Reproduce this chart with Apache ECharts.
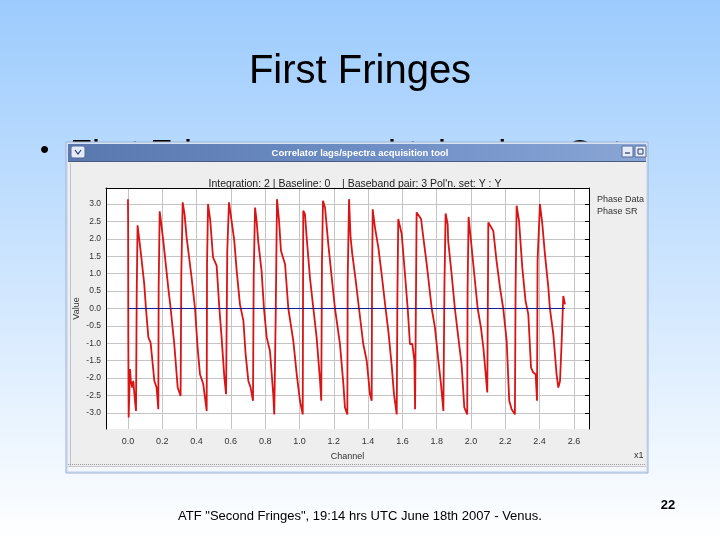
<!DOCTYPE html>
<html><head><meta charset="utf-8">
<script src="https://cdn.jsdelivr.net/npm/echarts@6/dist/echarts.min.js"></script>
<style>html,body{margin:0;padding:0;background:#fff;}#c{width:720px;height:540px;}</style>
</head><body><div id="c"></div>
<script>
// ---- data ----
const slideTitle = 'First Fringes';
const bulletText = 'First Fringes were obtained on Oct';
const windowTitle = 'Correlator lags/spectra acquisition tool';
const chartTitle = "Integration: 2 | Baseline: 0    | Baseband pair: 3 Pol'n. set: Y : Y";
const footerText = 'ATF "Second Fringes", 19:14 hrs UTC June 18th 2007 - Venus.';
const pageNumber = '22';
const seriesNames = ['Phase Data', 'Phase SR'];

const channel = [0,1,2,4,12,17,25,31,41,47,51,56,60,76,95,105,119,132,154,167,177,179,185,192,206,235,249,270,290,307,311,319,330,342,371,391,406,420,439,459,461,467,480,496,517,533,546,562,572,
579,589,604,620,634,653,673,686,702,715,729,733,741,750,760,779,793,809,828,847,853,861,869,881,892,916,935,964,984,1003,1019,1022,1032,1042,1061,1081,1100,1120,1127,1131,1137,1149,1168,1188,1207,
1217,1236,1256,1265,1279,1281,1289,1298,1308,1328,1347,1372,1392,1411,1421,1423,1427,1440,1460,1479,1502,1518,1537,1551,1567,1571,1576,1596,1615,1631,1644,1658,1670,1674,1683,1693,1709,1722,1742,1771,1790,1810,1825,1839,1845,1852,1864,
1867,1887,1906,1926,1945,1961,1978,1980,1986,2000,2019,2039,2058,2072,2085,2095,2101,2110,2130,2149,2169,2188,2208,2223,2237,2256,2260,2266,2280,2299,2318,2334,2350,2363,2377,2385,2388,2402,2416,2431,2451,2460,2480,2499,2509,2519,2528,2538,2544,2548];

const phase = [3.14,2.38,-0.83,-3.13,-1.74,-2.08,-2.27,-2.08,-2.65,-2.94,0.41,2.39,2.38,1.56,0.70,0,-0.83,-0.98,-2.08,-2.27,-2.89,0.60,2.79,2.52,1.94,0.60,0,-1.02,-2.27,-2.51,0.99,3.05,2.71,2.04,0.89,0,-1.12,-1.89,-2.17,-2.94,1.27,3.0,2.52,1.47,1.23,0,-0.83,-1.98,-2.46,
1.66,3.05,2.52,1.94,1.08,0.12,-0.35,-1.31,-2.08,-2.27,-2.65,0.89,2.90,2.52,1.90,1.08,0,-0.83,-1.22,-2.46,-3.04,-0.35,3.14,2.52,1.66,1.27,0,-0.93,-1.89,-2.65,-3.04,2.81,2.71,2.04,0.89,0,-0.83,-2.08,-2.65,1.27,3.09,2.90,1.85,0.89,0,
-0.35,-1.02,-2.17,-2.84,-3.04,0.80,3.14,2.04,1.56,0.80,0,-1.02,-1.50,-2.46,-2.65,0.70,2.85,2.33,1.75,0.99,0,-0.64,-1.60,-2.46,-3.04,0.41,2.57,2.14,0.99,0,-1.02,-1.02,-1.50,-2.89,2.76,2.71,2.57,2.04,1.27,0,-0.55,-1.50,-2.17,-2.94,0.60,2.73,2.42,
1.94,0.99,0,-0.83,-1.60,-2.84,-3.04,0.51,2.63,1.94,0.99,0,-0.55,-1.12,-1.84,-2.41,2.47,2.47,2.23,1.37,0.60,0,-0.93,-2.65,-2.89,-3.04,0.60,2.95,2.52,1.18,0.22,-0.16,-1.70,-1.84,-1.89,-2.65,1.37,3.0,2.42,1.56,0.60,0,-0.74,-1.89,-2.27,-2.08,-1.02,0.36,0.22,0.12];

const srChannel = [0, 2548];
const srPhase = [0, 0];

const xTicks = [0,200,400,600,800,1000,1200,1400,1600,1800,2000,2200,2400,2600];
const yTicks = [-3,-2.5,-2,-1.5,-1,-0.5,0,0.5,1,1.5,2,2.5,3];

// ---- chart ----
const chart = echarts.init(document.getElementById('c'), null, {renderer: 'canvas'});
const dataPts = channel.map((c, i) => [c, phase[i]]);
const srPts = srChannel.map((c, i) => [c, srPhase[i]]);
const FONT = 'Liberation Sans, Arial, sans-serif';

const option = {
  animation: false,
  backgroundColor: 'transparent',
  title: {
    text: chartTitle, left: 350, top: 174, textAlign: 'center',
    textStyle: {fontFamily: FONT, fontSize: 10.5, fontWeight: 'normal', color: '#222'}
  },
  legend: {
    data: seriesNames, orient: 'vertical', left: 587, top: 190,
    icon: 'none', itemWidth: 0, itemHeight: 8, itemGap: 3,
    textStyle: {fontFamily: FONT, fontSize: 9, color: '#333', padding: 0}
  },
  grid: {left: 106, right: 131, top: 188, bottom: 111, show: true, backgroundColor: '#ffffff', borderWidth: 0, containLabel: false},
  xAxis: [{
    type: 'value', min: -128, max: 2688, position: 'bottom',
    name: 'Channel', nameLocation: 'middle', nameGap: 23, nameMoveOverlap: false,
    nameTextStyle: {fontFamily: FONT, fontSize: 9, color: '#333'},
    axisLine: {show: false},
    axisTick: {show: false, customValues: xTicks},
    axisLabel: {customValues: xTicks, margin: 8, fontFamily: FONT, fontSize: 9, color: '#333',
      formatter: v => (v / 1000).toFixed(1)},
    splitLine: {show: true, lineStyle: {color: '#c4c4c4', width: 1}}
  }, {
    type: 'value', min: -128, max: 2688, position: 'top',
    axisLine: {show: true, onZero: false, lineStyle: {color: '#000', width: 1}},
    axisTick: {show: false}, axisLabel: {show: false}, splitLine: {show: false}
  }],
  yAxis: [{
    type: 'value', min: -3.46, max: 3.46, position: 'left',
    name: 'Value', nameLocation: 'middle', nameGap: 25, nameRotate: 90, nameMoveOverlap: false,
    nameTextStyle: {fontFamily: FONT, fontSize: 9, color: '#333'},
    axisLine: {show: true, onZero: false, lineStyle: {color: '#000', width: 1}},
    axisTick: {show: false, customValues: yTicks},
    axisLabel: {customValues: yTicks, margin: 5, fontFamily: FONT, fontSize: 8.5, color: '#333',
      formatter: v => v.toFixed(1)},
    splitLine: {show: true, lineStyle: {color: '#c4c4c4', width: 1}}
  }, {
    type: 'value', min: -3.46, max: 3.46, position: 'right',
    axisLine: {show: true, onZero: false, lineStyle: {color: '#000', width: 1}},
    axisTick: {show: true, inside: true, length: 4, customValues: yTicks, lineStyle: {color: '#000'}},
    axisLabel: {show: false}, splitLine: {show: false}
  }],
  series: [{
    name: seriesNames[0], type: 'line', data: dataPts, showSymbol: false, symbol: 'none',
    xAxisIndex: 0, yAxisIndex: 0, z: 3,
    lineStyle: {color: '#d91414', width: 1.8}, itemStyle: {color: '#d91414'}
  }, {
    name: seriesNames[1], type: 'line', data: srPts, showSymbol: false, symbol: 'none',
    xAxisIndex: 0, yAxisIndex: 0, z: 4,
    lineStyle: {color: '#1a1a8c', width: 1}, itemStyle: {color: '#1a1a8c'}
  }],
  graphic: [
    // slide background
    {type: 'rect', z: -100, shape: {x: 0, y: 0, width: 720, height: 540}, silent: true,
      style: {fill: new echarts.graphic.LinearGradient(0, 0, 0, 1, [{offset: 0, color: '#9ccbfd'}, {offset: 1, color: '#ffffff'}])}},
    {type: 'text', z: -90, x: 360, y: 72, silent: true,
      style: {text: slideTitle, fontFamily: FONT, fontSize: 40, fill: '#000', align: 'center', verticalAlign: 'middle'}},
    {type: 'text', z: -90, x: 40, y: 151, silent: true,
      style: {text: '\u2022', fontFamily: FONT, fontSize: 26, fill: '#000', align: 'left', verticalAlign: 'middle'}},
    {type: 'text', z: -90, x: 70, y: 156, silent: true,
      style: {text: bulletText, fontFamily: FONT, fontSize: 36, fill: '#000', align: 'left', verticalAlign: 'middle'}},
    // window frame
    {type: 'rect', z: -80, shape: {x: 66, y: 142, width: 582, height: 331}, silent: true,
      style: {fill: '#d6e2f3', stroke: '#9fb4d4', lineWidth: 1}},
    {type: 'rect', z: -79, shape: {x: 68, y: 144, width: 578, height: 17}, silent: true,
      style: {fill: new echarts.graphic.LinearGradient(0, 0, 1, 0, [{offset: 0, color: '#5a78b0'}, {offset: 0.5, color: '#6c8cc4'}, {offset: 1, color: '#8aa6d6'}])}},
    {type: 'text', z: -78, x: 360, y: 153, silent: true,
      style: {text: windowTitle, fontFamily: FONT, fontSize: 9.5, fontWeight: 'bold', fill: '#ffffff', align: 'center', verticalAlign: 'middle'}},
    {type: 'rect', z: -78, shape: {x: 71, y: 146, width: 14, height: 12, r: 2}, silent: true,
      style: {fill: '#e4ecf8', stroke: '#55699a', lineWidth: 1}},
    {type: 'polyline', z: -77, shape: {points: [[75, 150], [78, 154], [81, 150]]}, silent: true,
      style: {stroke: '#2a3a6a', lineWidth: 1.2, fill: null}},
    {type: 'rect', z: -78, shape: {x: 622, y: 146, width: 11, height: 11}, silent: true,
      style: {fill: '#e4ecf8', stroke: '#55699a', lineWidth: 1}},
    {type: 'line', z: -77, shape: {x1: 625, y1: 153, x2: 630, y2: 153}, silent: true,
      style: {stroke: '#2a3a6a', lineWidth: 1.2}},
    {type: 'rect', z: -78, shape: {x: 635, y: 146, width: 11, height: 11}, silent: true,
      style: {fill: '#e4ecf8', stroke: '#55699a', lineWidth: 1}},
    {type: 'rect', z: -77, shape: {x: 638, y: 149, width: 5, height: 5}, silent: true,
      style: {fill: null, stroke: '#2a3a6a', lineWidth: 1}},
    {type: 'line', z: -78, shape: {x1: 68, y1: 161.5, x2: 646, y2: 161.5}, silent: true,
      style: {stroke: '#4a5a80', lineWidth: 1}},
    // window body
    {type: 'rect', z: -76, shape: {x: 68, y: 162, width: 578, height: 309}, silent: true,
      style: {fill: '#eeeeee'}},
    {type: 'line', z: -75, shape: {x1: 70.5, y1: 163, x2: 70.5, y2: 470}, silent: true,
      style: {stroke: '#b8c4d8', lineWidth: 1}},
    // status bar separator
    {type: 'line', z: -75, shape: {x1: 68, y1: 464.5, x2: 646, y2: 464.5}, silent: true,
      style: {stroke: '#9a9a9a', lineWidth: 1, lineDash: [1, 1]}},
    {type: 'line', z: -75, shape: {x1: 68, y1: 466.5, x2: 646, y2: 466.5}, silent: true,
      style: {stroke: '#c8c8c8', lineWidth: 1}},
    {type: 'rect', z: -75, shape: {x: 68, y: 467, width: 578, height: 4}, silent: true,
      style: {fill: '#f3f6fa'}},
    // axis multiplier (cut by window edge in the original)
    {type: 'text', z: -74, x: 634, y: 456, silent: true,
      style: {text: 'x1', fontFamily: FONT, fontSize: 9, fill: '#333', align: 'left', verticalAlign: 'middle'}},
    // footer
    {type: 'text', z: -90, x: 360, y: 516, silent: true,
      style: {text: footerText, fontFamily: FONT, fontSize: 13, fill: '#000', align: 'center', verticalAlign: 'middle'}},
    {type: 'text', z: -90, x: 668, y: 505, silent: true,
      style: {text: pageNumber, fontFamily: FONT, fontSize: 13, fontWeight: 'bold', fill: '#000', align: 'center', verticalAlign: 'middle'}}
  ]
};
chart.setOption(option);
</script></body></html>
